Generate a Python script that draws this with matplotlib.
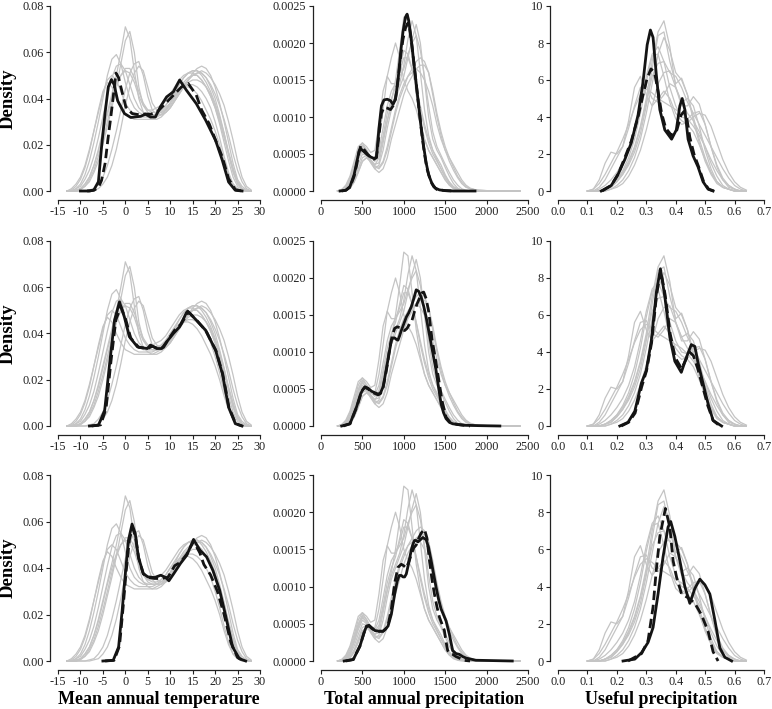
import matplotlib
matplotlib.use("Agg")
import matplotlib.pyplot as plt
import numpy as np

plt.rcParams["font.family"] = ["Liberation Serif", "DejaVu Serif"]

# ---- Mean annual temperature (density x 1e-3) ----
temp_grid = list(range(-13, 29))
temp_grey = [
    [0, 0.5, 2, 5, 10, 17, 26, 35, 43, 47, 45, 40, 36, 33, 32, 31, 31, 31, 31, 31, 32, 33, 35, 38, 41, 43, 45, 46, 46, 45, 43, 40, 36, 30, 23, 15, 8, 3, 1, 0, 0, 0],
    [0, 0, 1, 3, 7, 13, 21, 30, 40, 50, 57, 59, 55, 47, 40, 36, 34, 33, 33, 33, 33, 34, 36, 38, 41, 44, 47, 49, 50, 50, 48, 45, 41, 36, 29, 21, 13, 6, 2, 0.5, 0, 0],
    [0, 0, 0, 1, 3, 6, 11, 18, 26, 34, 42, 50, 60, 71, 66, 52, 40, 34, 32, 31, 31, 32, 34, 36, 39, 42, 45, 48, 50, 51, 51, 49, 45, 40, 33, 25, 16, 8, 3, 1, 0, 0],
    [0, 0, 0, 0.5, 2, 4, 8, 13, 20, 28, 36, 45, 55, 65, 69, 60, 45, 37, 34, 33, 33, 33, 34, 36, 39, 42, 45, 48, 51, 53, 54, 53, 50, 45, 38, 30, 21, 12, 5, 2, 0.5, 0],
    [0, 0, 0, 0, 0, 0.5, 1, 3, 6, 11, 18, 26, 35, 44, 51, 55, 56, 50, 41, 35, 33, 33, 35, 38, 42, 46, 49, 51, 52, 52, 51, 49, 46, 42, 37, 31, 24, 16, 9, 4, 1, 0],
    [0, 0, 0, 0, 0, 0, 0.5, 1, 3, 6, 11, 18, 27, 37, 45, 51, 54, 52, 45, 38, 35, 34, 35, 37, 40, 43, 46, 48, 50, 51, 52, 51, 49, 46, 42, 37, 30, 22, 13, 6, 2, 0.5],
    [0, 0, 1, 2, 5, 9, 15, 23, 32, 41, 49, 54, 55, 52, 46, 40, 36, 34, 33, 33, 33, 33, 34, 36, 39, 42, 45, 47, 48, 48, 47, 45, 42, 37, 31, 24, 16, 9, 4, 1, 0, 0],
    [0, 0, 0, 1, 2, 5, 9, 15, 22, 30, 38, 45, 50, 53, 53, 49, 43, 38, 35, 34, 34, 35, 37, 40, 43, 46, 49, 51, 52, 52, 50, 47, 43, 38, 32, 25, 17, 10, 4, 1, 0, 0],
    [0, 1, 3, 6, 11, 18, 26, 34, 42, 48, 50, 48, 43, 38, 35, 33, 32, 32, 32, 32, 33, 35, 37, 40, 42, 44, 45, 45, 44, 42, 39, 35, 31, 26, 20, 13, 7, 3, 1, 0, 0, 0],
    [0, 0, 0.5, 1, 3, 6, 11, 17, 25, 33, 40, 46, 50, 52, 51, 47, 41, 37, 35, 35, 36, 37, 39, 42, 45, 48, 50, 51, 51, 50, 48, 45, 41, 36, 30, 23, 16, 9, 4, 1, 0, 0],
]
temp_solid_x = [
    [-10, -7.9, -7, -6, -5.3, -4.5, -3.8, -3.1, -2.5, -1.7, -0.2, 1.2, 3.4, 4.5, 5.6, 6.7, 7.8, 9.2, 10.7, 12.1, 13.6, 15.8, 17.9, 20.1, 21.6, 23, 24.5, 26],
    [-8, -6, -4.6, -3.5, -2.4, -1.3, -0.2, 0.9, 2.7, 4.9, 5.6, 7, 8.1, 9.2, 10.7, 12.1, 13.6, 13.9, 15.8, 17.9, 20.1, 21.6, 23, 24.5, 26],
    [-5, -2.7, -1.5, -0.7, 0, 0.7, 1.5, 2.2, 2.9, 4, 5, 6.5, 7.9, 9, 9.7, 10.8, 12.3, 13.7, 15.2, 16.6, 18.1, 19.5, 21, 22.4, 23.9, 25.4, 26.8],
]
temp_solid_y = [
    [0, 0, 0.5, 4, 19, 34, 45, 48.2, 46, 39, 33.5, 31.8, 32.3, 33.2, 32, 32, 36.4, 40.7, 42.9, 48, 43.6, 37.8, 30.6, 21.9, 13.3, 3.9, 0.3, 0],
    [0, 0.3, 6.8, 27, 45.8, 53.7, 47, 38.6, 34.2, 33.5, 35, 33.5, 33.5, 36.4, 40, 42.9, 49, 49.7, 45.8, 41.4, 32.8, 22.7, 8.2, 1, 0],
    [0, 0.3, 6, 21.8, 37.6, 52, 58.9, 54.9, 44.8, 37.6, 36.2, 35.9, 36.9, 35.9, 34.5, 37.6, 42, 45.5, 52.3, 47.7, 44.8, 39, 30.5, 19, 6, 1, 0],
]
temp_dash_x = [
    [-8.5, -7, -6, -5.3, -4.5, -3.9, -3.3, -2.8, -2.1, -1.5, -1, 0.1, 1.5, 3, 4.5, 5.6, 7, 8.5, 10, 11.5, 12.5, 14, 15.8, 17, 18.7, 20, 21.6, 23, 24.5, 26],
    [-7.5, -5.5, -4.3, -3.2, -2.1, -1, 0.1, 1.2, 3, 5, 6, 7.3, 8.5, 9.6, 11, 12.4, 13.8, 14.2, 16, 18, 20.2, 21.7, 23.1, 24.6, 26],
    [-4.5, -2.5, -1.3, -0.5, 0.2, 0.9, 1.6, 2.3, 3, 4, 5, 6.5, 8, 9.5, 11, 12.3, 13.7, 15.2, 16.6, 17.5, 19, 20.5, 22, 23.5, 25, 26.5],
]
temp_dash_y = [
    [0, 0.3, 1.5, 4.6, 12, 22, 31, 39, 51, 49, 45, 36.4, 33.5, 33, 33.3, 33.2, 34, 37, 40, 43, 45, 46.5, 41.5, 35, 29, 22.5, 14.7, 5.3, 0.6, 0],
    [0, 0.5, 7.5, 28, 46, 51.5, 46, 38, 34, 33.5, 34.5, 33.5, 34, 37.5, 41.5, 44, 48.5, 49, 45.5, 41, 32.5, 22.5, 8, 1, 0],
    [0, 0.3, 6.5, 23, 39, 52, 57.5, 53, 44, 37.5, 36, 35.5, 35.5, 36, 41, 42.5, 46, 51.5, 46.5, 41.5, 37, 30, 20, 8, 1.5, 0],
]

# ---- Total annual precipitation (density x 1e-4) ----
precip_grid = list(range(200, 1901, 50)) + [2100, 2400]
precip_grey = [
    [0, 0.1, 0.4, 1.2, 2.8, 4.8, 6.0, 5.2, 4.2, 3.6, 3.8, 6.5, 9.5, 12, 15, 19, 23.5, 23, 18, 13, 9.5, 7, 5.5, 4.5, 3.5, 2.5, 1.5, 0.8, 0.4, 0.2, 0.1, 0, 0, 0, 0, 0, 0],
    [0, 0.2, 0.8, 2, 4, 6, 6.5, 5.5, 4.5, 4.5, 7, 11, 15.5, 18, 20, 18, 15, 13.5, 12.5, 11, 9, 7, 5.5, 4.5, 3.5, 2.5, 1.5, 0.8, 0.3, 0.1, 0, 0, 0, 0, 0, 0, 0],
    [0, 0, 0.3, 1, 2.5, 4.2, 5.5, 5, 4, 3.5, 4.5, 7, 9.5, 11.5, 13, 14.5, 17, 20.5, 23, 21, 16, 11, 7.5, 5.5, 4.5, 3.5, 2.2, 1.2, 0.5, 0.2, 0.1, 0, 0, 0, 0, 0, 0],
    [0, 0, 0.2, 0.8, 2, 3.6, 5, 4.8, 3.8, 3, 3.5, 5.5, 8.5, 11, 12.5, 14, 15.5, 18, 20.5, 22.5, 20, 15, 10, 7, 5.5, 4.5, 3.2, 2, 1, 0.4, 0.1, 0, 0, 0, 0, 0, 0],
    [0, 0, 0.2, 0.6, 1.5, 3, 4.5, 4.8, 4.2, 3.3, 3, 3.8, 5.5, 8, 10.5, 12.5, 14, 15.5, 16.5, 17.5, 18, 17.5, 16, 13, 10, 7.5, 5.5, 4, 2.8, 1.8, 1, 0.5, 0.3, 0.2, 0.1, 0, 0],
    [0, 0, 0.1, 0.4, 1.2, 2.5, 4, 4.5, 4, 3, 2.5, 3, 4.5, 7, 9, 11, 13, 14.5, 15.5, 16.5, 17, 17, 16, 13.5, 10.5, 8, 6, 4.5, 3.2, 2, 1.2, 0.6, 0.3, 0.2, 0.1, 0, 0],
    [0, 0.2, 0.6, 1.8, 3.5, 5.5, 6.5, 6, 5.2, 5.5, 9, 13.5, 15.5, 14.5, 14.5, 16, 18, 18, 16.5, 14, 11, 8.5, 6.5, 5, 4, 3, 2, 1.2, 0.6, 0.3, 0.1, 0, 0, 0, 0, 0, 0],
    [0, 0.1, 0.3, 1.1, 2.6, 4.5, 5.8, 5.3, 4.5, 4.2, 5.5, 8.5, 11.5, 13.5, 14.5, 15.5, 16.5, 18.5, 20, 21, 19, 15.5, 11.5, 8, 6, 4.8, 3.6, 2.5, 1.5, 0.8, 0.3, 0.1, 0, 0, 0, 0, 0],
    [0, 0, 0.1, 0.4, 1.2, 2.6, 4, 4.5, 4, 3.4, 3.2, 4, 6, 8.5, 11, 13, 14.5, 15.5, 16, 16.5, 16, 15, 13.5, 11.5, 9, 7, 5.5, 4.5, 3.5, 2.5, 1.5, 0.8, 0.4, 0.2, 0.1, 0, 0],
    [0, 0.1, 0.5, 1.5, 3.2, 5, 6.2, 5.6, 4.6, 4, 4.8, 7.5, 10.5, 12.5, 14, 16.5, 19, 18.5, 16.5, 14, 11.5, 9, 7, 5.5, 4.2, 3, 1.8, 1, 0.5, 0.2, 0.1, 0, 0, 0, 0, 0, 0],
]
precip_solid_x = [
    [230, 300, 350, 400, 430, 460, 480, 520, 560, 600, 640, 670, 700, 730, 760, 800, 840, 870, 900, 930, 960, 990, 1020, 1040, 1060, 1090, 1120, 1150, 1180, 1210, 1240, 1270, 1300, 1340, 1380, 1430, 1500, 1600, 1860],
    [250, 350, 430, 480, 510, 530, 570, 610, 650, 690, 720, 750, 775, 800, 825, 850, 870, 890, 910, 930, 950, 970, 1000, 1030, 1060, 1090, 1120, 1150, 1180, 1210, 1240, 1270, 1300, 1330, 1360, 1390, 1420, 1450, 1480, 1510, 1550, 1590, 1650, 1750, 1900, 2160],
    [280, 390, 470, 520, 550, 580, 610, 650, 700, 750, 780, 810, 850, 890, 920, 945, 970, 990, 1010, 1030, 1060, 1090, 1110, 1130, 1150, 1170, 1200, 1230, 1270, 1300, 1330, 1360, 1390, 1420, 1450, 1480, 1510, 1550, 1590, 1630, 1670, 1710, 1750, 1870, 2310],
]
precip_solid_y = [
    [0, 0.1, 0.6, 2.2, 3.8, 5.4, 5.7, 5.3, 4.9, 4.6, 4.4, 4.5, 8.5, 11.5, 12.3, 12.4, 12.2, 11.7, 12.4, 15, 18.5, 21.5, 23.5, 23.9, 23, 20.5, 17.5, 14.5, 11.5, 8.5, 6, 3.8, 2.2, 1, 0.4, 0.15, 0.05, 0, 0],
    [0, 0.3, 2.6, 4.4, 5, 5.3, 5.1, 4.7, 4.5, 4.3, 4.5, 5.3, 6.8, 8.4, 10, 11.6, 11.9, 11.9, 11.7, 11.6, 12.2, 12.9, 13.8, 14.7, 15.3, 16.1, 17.2, 18.4, 18.2, 17.4, 16.2, 14.7, 12.9, 11.1, 9.3, 7.5, 5.2, 3, 1.8, 1, 0.5, 0.3, 0.2, 0.1, 0.05, 0],
    [0, 0.2, 2, 3.8, 4.7, 4.8, 4.5, 4.1, 4, 4, 4.3, 4.7, 6.3, 9, 10.7, 11.5, 11.5, 11.3, 11.3, 11.7, 13.2, 14.9, 15.7, 16.2, 16.2, 16, 16.3, 16.6, 16.3, 15.2, 13.5, 11.7, 9.9, 8.3, 7, 6.2, 5.4, 3.6, 1.4, 1, 0.9, 0.6, 0.4, 0.1, 0],
]
precip_dash_x = [
    [250, 300, 350, 400, 430, 460, 480, 520, 560, 600, 640, 670, 700, 730, 760, 800, 840, 870, 900, 930, 960, 990, 1020, 1050, 1070, 1100, 1130, 1160, 1190, 1220, 1250, 1280, 1320, 1360, 1400, 1500, 1600],
    [270, 350, 430, 480, 510, 530, 570, 610, 650, 690, 720, 750, 775, 800, 830, 860, 890, 920, 950, 980, 1010, 1040, 1070, 1100, 1130, 1160, 1190, 1220, 1240, 1270, 1300, 1340, 1370, 1400, 1430, 1460, 1510, 1560, 1650, 1800],
    [300, 390, 470, 520, 550, 580, 610, 650, 700, 750, 780, 810, 850, 890, 930, 970, 1000, 1030, 1060, 1090, 1120, 1150, 1180, 1210, 1250, 1280, 1310, 1340, 1370, 1400, 1430, 1460, 1490, 1510, 1530, 1560, 1590, 1630, 1670, 1720, 1800],
]
precip_dash_y = [
    [0, 0.1, 0.5, 2, 3.5, 5.3, 6.1, 5.6, 5, 4.5, 4.3, 4.6, 7.5, 10.5, 11.3, 11.2, 11, 11.5, 12.5, 15, 18, 20.5, 22, 22.7, 22, 19.5, 16.5, 13.5, 10.5, 7.5, 5, 3, 1.5, 0.6, 0.2, 0.05, 0],
    [0, 0.3, 2.5, 4.3, 5, 5.2, 5, 4.6, 4.4, 4.2, 4.4, 5.2, 6.6, 8.2, 10.5, 12.2, 13.2, 13.4, 13.3, 13, 12.9, 13.2, 13.8, 14.3, 15.5, 16.5, 17.3, 18, 18.1, 17.2, 15.5, 11.8, 9.8, 7.8, 5.7, 3.5, 1.2, 0.5, 0.2, 0],
    [0, 0.2, 2, 3.8, 4.6, 4.7, 4.4, 4.1, 4, 4, 4.3, 4.8, 7, 10.5, 12.6, 13, 12.8, 12.5, 13.3, 14.3, 15.2, 15.6, 16.5, 17.2, 17.7, 16.5, 13.5, 11, 9, 7.3, 5.9, 5, 4.1, 2.6, 1.4, 1, 0.9, 0.6, 0.4, 0.1, 0],
]

# ---- Useful precipitation ----
useful_grid = [0.10, 0.12, 0.14, 0.16, 0.18, 0.20, 0.22, 0.24, 0.26, 0.28, 0.30, 0.32, 0.34, 0.36,
               0.38, 0.40, 0.42, 0.44, 0.46, 0.48, 0.50, 0.52, 0.54, 0.56, 0.58, 0.60, 0.62, 0.64]
useful_grey = [
    [0, 0.1, 0.6, 1.5, 2.1, 2, 2.4, 3.8, 5.6, 6.2, 5.2, 4.6, 5, 5.4, 5, 4.2, 3.8, 3.6, 3.2, 2.5, 1.7, 1, 0.5, 0.2, 0.1, 0, 0, 0],
    [0, 0, 0, 0.1, 0.3, 0.6, 1, 1.6, 2.4, 3.5, 5, 7, 8.6, 9.2, 7.8, 5.6, 4.8, 5, 4.6, 3.5, 2.2, 1.2, 0.5, 0.2, 0.1, 0, 0, 0],
    [0, 0, 0.1, 0.3, 0.6, 1, 1.5, 2.2, 3.2, 4.6, 6.2, 7.4, 7.8, 7, 5.6, 4.6, 4, 3.9, 4.2, 4.3, 3.6, 2.4, 1.3, 0.6, 0.2, 0.1, 0, 0],
    [0, 0, 0.2, 0.6, 1.2, 1.8, 2.4, 3.4, 4.6, 5.6, 5.7, 5, 4.8, 5.2, 5.8, 5.6, 4.8, 4.2, 3.8, 3.2, 2.4, 1.5, 0.8, 0.3, 0.1, 0, 0, 0],
    [0, 0, 0, 0, 0.1, 0.3, 0.6, 1.1, 1.8, 2.8, 4.2, 5.8, 7.4, 8.3, 7.6, 6.4, 6, 5.2, 4, 2.8, 1.8, 1, 0.5, 0.2, 0.1, 0, 0, 0],
    [0, 0, 0, 0.1, 0.2, 0.5, 0.9, 1.5, 2.3, 3.4, 4.8, 6.2, 6.9, 7, 6.4, 6.2, 5.6, 4.8, 4.2, 3.6, 3, 2.4, 1.8, 1.2, 0.7, 0.3, 0.1, 0],
    [0, 0, 0, 0, 0.1, 0.2, 0.4, 0.8, 1.4, 2.2, 3.3, 4.6, 5.8, 6.4, 6.5, 5.6, 4.6, 4.6, 5.1, 4.7, 3.6, 2.4, 1.4, 0.7, 0.3, 0.1, 0, 0],
    [0, 0.1, 0.4, 0.9, 1.5, 2.1, 2.8, 3.6, 4.5, 5.2, 5.5, 5.3, 5, 4.8, 4.6, 4.4, 4.2, 3.9, 3.5, 3, 2.4, 1.7, 1.1, 0.6, 0.3, 0.1, 0, 0],
    [0, 0, 0, 0.1, 0.2, 0.5, 0.9, 1.4, 2.1, 3.1, 4.6, 6.6, 8.4, 8.6, 7, 5.8, 6.1, 5.2, 3.8, 2.6, 1.6, 0.9, 0.4, 0.2, 0.1, 0, 0, 0],
    [0, 0, 0, 0.1, 0.3, 0.6, 1.1, 1.8, 2.8, 4.2, 5.9, 7.3, 7.4, 6.2, 4.8, 3.9, 3.6, 3.7, 4, 4.2, 4.1, 3.5, 2.6, 1.7, 1, 0.5, 0.2, 0.05],
]
useful_solid_x = [
    [0.147, 0.181, 0.204, 0.227, 0.249, 0.272, 0.289, 0.303, 0.314, 0.323, 0.334, 0.346, 0.363, 0.386, 0.402, 0.414, 0.422, 0.431, 0.442, 0.459, 0.476, 0.493, 0.51, 0.527],
    [0.21, 0.238, 0.261, 0.283, 0.3, 0.317, 0.334, 0.348, 0.363, 0.38, 0.397, 0.419, 0.436, 0.453, 0.465, 0.476, 0.493, 0.51, 0.527, 0.556],
    [0.221, 0.261, 0.284, 0.306, 0.323, 0.34, 0.357, 0.374, 0.383, 0.397, 0.414, 0.431, 0.448, 0.465, 0.482, 0.499, 0.516, 0.533, 0.55, 0.567, 0.59],
]
useful_solid_y = [
    [0, 0.3, 0.9, 1.7, 2.6, 4.1, 5.9, 7.9, 8.7, 8.3, 6.3, 4.4, 3.3, 2.8, 3.3, 4.6, 5, 4.4, 2.8, 1.9, 1.3, 0.5, 0.1, 0],
    [0, 0.2, 0.8, 2.3, 3, 4.6, 7.2, 8.5, 7, 4.8, 3.5, 2.9, 3.7, 4.4, 4.3, 3.4, 2.3, 1.2, 0.3, 0],
    [0, 0.1, 0.45, 1, 1.8, 3.6, 5.6, 7.2, 7.5, 6.7, 5.4, 4, 3.1, 3.9, 4.4, 4.1, 3.6, 2.2, 0.7, 0.2, 0],
]
useful_dash_x = [
    [0.15, 0.181, 0.204, 0.227, 0.249, 0.272, 0.289, 0.303, 0.316, 0.328, 0.34, 0.352, 0.366, 0.386, 0.404, 0.418, 0.428, 0.438, 0.448, 0.462, 0.478, 0.495, 0.512, 0.53],
    [0.215, 0.24, 0.262, 0.284, 0.301, 0.318, 0.335, 0.349, 0.364, 0.381, 0.398, 0.42, 0.435, 0.447, 0.46, 0.475, 0.492, 0.509, 0.527, 0.55],
    [0.238, 0.284, 0.306, 0.323, 0.334, 0.346, 0.365, 0.38, 0.391, 0.403, 0.42, 0.442, 0.465, 0.487, 0.51, 0.527, 0.544],
]
useful_dash_y = [
    [0, 0.3, 0.9, 1.8, 2.7, 4.0, 5.2, 6.1, 6.6, 6.4, 5.4, 4.2, 3.4, 3.0, 3.3, 4.1, 4.3, 3.9, 2.9, 2.0, 1.3, 0.5, 0.1, 0],
    [0, 0.2, 0.7, 2.1, 3, 4.5, 7.1, 8.4, 7.1, 5, 3.7, 3.1, 3.6, 4.0, 3.8, 3.1, 2.1, 1.1, 0.3, 0],
    [0, 0.4, 1.1, 2.9, 4.9, 6.7, 8.2, 7.2, 5.4, 4.5, 3.6, 3.4, 3.1, 2.5, 1.6, 0.5, 0],
]

col_labels = ["Mean annual temperature", "Total annual precipitation", "Useful precipitation"]

columns = [
    dict(grid=temp_grid, grey=temp_grey, sx=temp_solid_x, sy=temp_solid_y,
         dx=temp_dash_x, dy=temp_dash_y, scale=1e-3,
         xticks=np.arange(-15, 31, 5), xlim=(-15, 30), xfmt="{:.0f}",
         yticks=np.arange(0, 0.081, 0.02), ylim=(0, 0.08), yfmt="{:.2f}"),
    dict(grid=precip_grid, grey=precip_grey, sx=precip_solid_x, sy=precip_solid_y,
         dx=precip_dash_x, dy=precip_dash_y, scale=1e-4,
         xticks=np.arange(0, 2501, 500), xlim=(0, 2500), xfmt="{:.0f}",
         yticks=np.arange(0, 0.00251, 0.0005), ylim=(0, 0.0025), yfmt="{:.4f}"),
    dict(grid=useful_grid, grey=useful_grey, sx=useful_solid_x, sy=useful_solid_y,
         dx=useful_dash_x, dy=useful_dash_y, scale=1.0,
         xticks=np.arange(0, 0.71, 0.1), xlim=(0, 0.7), xfmt="{:.1f}",
         yticks=np.arange(0, 11, 2), ylim=(0, 10), yfmt="{:.0f}"),
]

W, H = 772, 709
fig = plt.figure(figsize=(W / 100, H / 100), dpi=100)

col_px = [(58, 202), (321, 207), (558, 206)]
row_px = [(6, 191), (241, 426), (475, 661)]

for r in range(3):
    for c in range(3):
        cfg = columns[c]
        left, width = col_px[c]
        top, bottom = row_px[r]
        ax = fig.add_axes([left / W, 1 - bottom / H, width / W, (bottom - top) / H])
        sc = cfg["scale"]
        for g in cfg["grey"]:
            ax.plot(cfg["grid"], np.array(g) * sc, color="#c4c4c4", lw=0.9, clip_on=False)
        ax.plot(cfg["dx"][r], np.array(cfg["dy"][r]) * sc, color="#141414", lw=2.0,
                dashes=(3.4, 1.7), clip_on=False)
        ax.plot(cfg["sx"][r], np.array(cfg["sy"][r]) * sc, color="#141414", lw=2.0,
                clip_on=False)

        ax.set_xlim(*cfg["xlim"])
        ax.set_ylim(*cfg["ylim"])
        ax.set_xticks(cfg["xticks"])
        ax.set_yticks(cfg["yticks"])
        ax.set_xticklabels([cfg["xfmt"].format(v) for v in cfg["xticks"]])
        ax.set_yticklabels([cfg["yfmt"].format(v) for v in cfg["yticks"]])

        for s in ["top", "right"]:
            ax.spines[s].set_visible(False)
        ax.spines["left"].set_position(("outward", 6))
        ax.spines["bottom"].set_position(("outward", 6.5))
        for s in ["left", "bottom"]:
            ax.spines[s].set_linewidth(0.9)
            ax.spines[s].set_color("#222222")
        ax.tick_params(direction="out", length=3, width=0.8, colors="#222222",
                       labelsize=8.8, pad=1.5)
        ax.patch.set_alpha(0)

        if c == 0:
            ax.set_ylabel("Density", fontsize=13.5, fontweight="bold")
            ax.yaxis.set_label_coords(-0.205, 0.5)
        if r == 2:
            ax.set_xlabel(col_labels[c], fontsize=13, fontweight="bold", labelpad=2)

fig.savefig("out.png", dpi=100)
